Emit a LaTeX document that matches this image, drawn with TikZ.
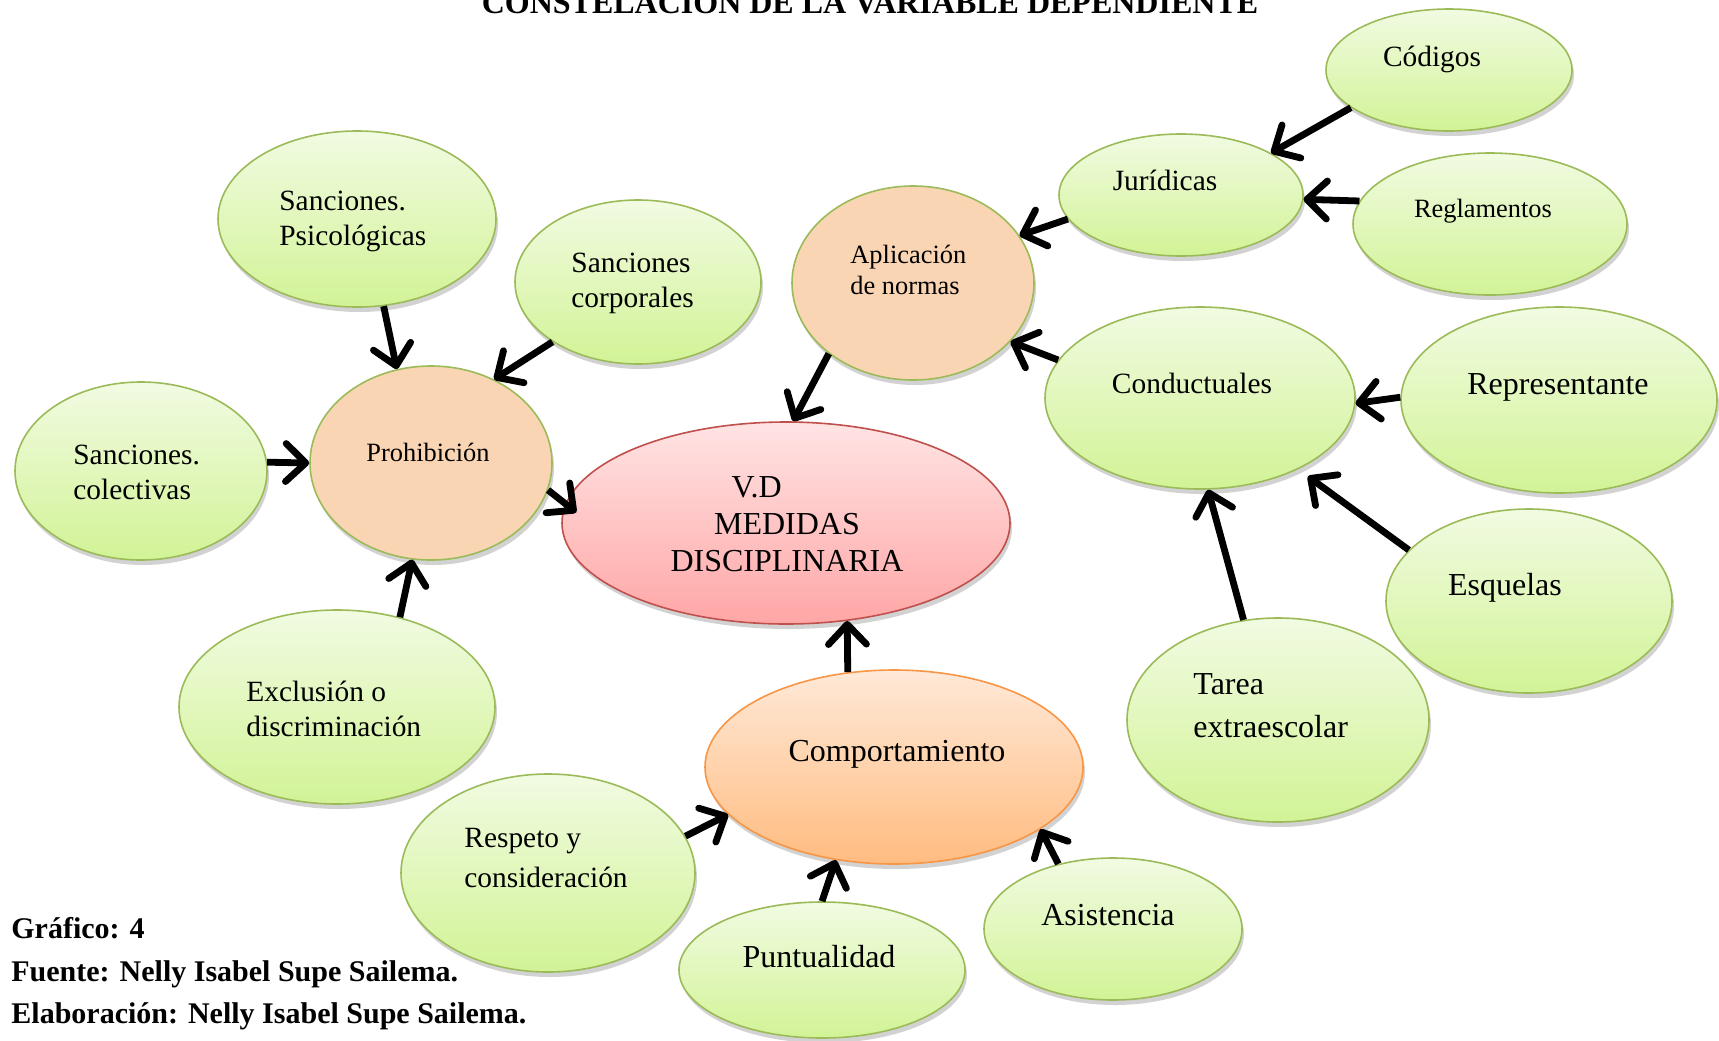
\documentclass[tikz,border=0pt]{standalone}
\usepackage{fontspec}
\setmainfont{Liberation Serif}
\usetikzlibrary{shapes.geometric,arrows.meta,shadows}
\definecolor{grnB}{RGB}{155,187,89}
\definecolor{grnT}{RGB}{241,251,226}
\definecolor{grnM}{RGB}{210,243,150}
\definecolor{peach}{RGB}{250,213,180}
\definecolor{redB}{RGB}{192,80,77}
\definecolor{redT}{RGB}{255,228,228}
\definecolor{redM}{RGB}{255,166,166}
\definecolor{orgB}{RGB}{247,150,70}
\definecolor{orgT}{RGB}{255,233,216}
\definecolor{orgM}{RGB}{255,188,128}
\tikzset{
  bub/.style={ellipse, inner sep=0pt, line width=0.8pt,
    drop shadow={shadow xshift=1pt, shadow yshift=-2.5pt, opacity=0.25, fill=black!70}},
  grn/.style={bub, draw=grnB, top color=grnT, bottom color=grnM},
  pch/.style={bub, draw=grnB, fill=peach},
  redn/.style={bub, draw=redB, top color=redT, bottom color=redM},
  orgn/.style={bub, draw=orgB, top color=orgT, bottom color=orgM},
  fA/.style={font=\fontsize{16}{18.5}\selectfont},
  fB/.style={font=\fontsize{14.7}{17.5}\selectfont},
  fC/.style={font=\fontsize{13.2}{15.3}\selectfont},
  lft/.style={anchor=west, align=left, inner sep=0pt},
  arr/.style={line width=3.4pt, -{Straight Barb[length=10pt,width=19pt,round]}},
  foot/.style={anchor=base west, inner sep=0pt, font=\fontsize{15}{18}\selectfont\bfseries}
}
\begin{document}
\begin{tikzpicture}[x=0.5pt,y=-0.5pt]
\useasboundingbox (0,0) rectangle (1719,1040);
% title
\node[anchor=base, font=\fontsize{16}{19}\selectfont\bfseries] (title) at (870,13) {CONSTELACIÓN DE LA VARIABLE DEPENDIENTE};
% ellipses
\node[grn, minimum width=123pt, minimum height=61pt] (cod) at (1449,70) {};
\node[grn, minimum width=122pt, minimum height=61pt] (jur) at (1181,195) {};
\node[grn, minimum width=137pt, minimum height=71pt] (reg) at (1490,224) {};
\node[pch, minimum width=121pt, minimum height=97pt] (apl) at (913,283) {};
\node[grn, minimum width=139pt, minimum height=88pt] (psi) at (357,219) {};
\node[grn, minimum width=123pt, minimum height=82pt] (cor) at (638,282) {};
\node[grn, minimum width=155pt, minimum height=91pt] (con) at (1200,398) {};
\node[grn, minimum width=158pt, minimum height=93pt] (rep) at (1559,400) {};
\node[grn, minimum width=126pt, minimum height=89pt] (col) at (141,471) {};
\node[pch, minimum width=121pt, minimum height=97pt] (pro) at (431,463) {};
\node[redn, minimum width=224pt, minimum height=101pt] (vd) at (786,523) {};
\node[grn, minimum width=143pt, minimum height=92pt] (esq) at (1529,601) {};
\node[grn, minimum width=151pt, minimum height=102pt] (tar) at (1278,720) {};
\node[grn, minimum width=158pt, minimum height=97pt] (exc) at (337,707) {};
\node[orgn, minimum width=189pt, minimum height=97pt] (com) at (894,767) {};
\node[grn, minimum width=147pt, minimum height=99pt] (res) at (548,873) {};
\node[grn, minimum width=143pt, minimum height=68pt] (pun) at (822,970) {};
\node[grn, minimum width=129pt, minimum height=71pt] (asi) at (1113,929) {};
% texts
\node[fB] (cod-t) at (1432,59) {Códigos};
\node[fB] (jur-t) at (1165,180) {Jurídicas};
\node[fC] (reg-t) at (1483,211) {Reglamentos};
\node[fC, lft] (apl-t) at (850,270) {Aplicación\\de normas};
\node[fB, lft] (psi-t) at (279,221) {Sanciones.\\Psicológicas};
\node[fB, lft] (cor-t) at (571,283) {Sanciones\\corporales};
\node[fB] (con-t) at (1192,383) {Conductuales};
\node[fA] (rep-t) at (1558,387) {Representante};
\node[fB, lft] (col-t) at (73,472) {Sanciones.\\colectivas};
\node[fC] (pro-t) at (428,452) {Prohibición};
\node[fA, align=center] (vd-t) at (787,524) {V.D\hspace*{1.9em}\\MEDIDAS\\DISCIPLINARIA};
\node[fA] (esq-t) at (1505,588) {Esquelas};
\node[font=\fontsize{16}{21.4}\selectfont, lft] (tar-t) at (1193,706) {Tarea\\extraescolar};
\node[fB, lft] (exc-t) at (246,709) {Exclusión o\\discriminación};
\node[fA] (com-t) at (897,754) {Comportamiento};
\node[font=\fontsize{14.7}{19.7}\selectfont, lft] (res-t) at (464,858) {Respeto y\\consideración};
\node[fA] (pun-t) at (819,957) {Puntualidad};
\node[fA] (asi-t) at (1108,915) {Asistencia};
% arrows
\draw[arr] (cod.201) -- (jur.25);
\draw[arr] (reg.170) -- (jur.358);
\draw[arr] (jur.192) -- (apl.24);
\draw[arr] (con.165) -- (apl.329);
\draw[arr] (apl.220) -- (vd.86);
\draw[arr] (rep.179) -- (con.358);
\draw[arr, shorten >=6pt] (esq.157) -- (con.324);
\draw[arr] (tar.109) -- (con.275);
\draw[arr] (psi.287) -- (pro.110);
\draw[arr] (cor.215) -- (pro.53);
\draw[arr] (col.4) -- (pro.180);
\draw[arr, shorten >=-7pt] (pro.347) -- (vd.175);
\draw[arr] (exc.55) -- (pro.259);
\draw[arr] (com.116) -- (vd.302);
\draw[arr] (res.15) -- (com.196);
\draw[arr] (pun.90) -- (com.238);
\draw[arr] (asi.130) -- (com.337);
% footer
\node[foot] (f1) at (11,938) {Gráfico: 4};
\node[foot] (f2) at (11,981) {Fuente: Nelly Isabel Supe Sailema.};
\node[foot] (f3) at (11,1023) {Elaboración: Nelly Isabel Supe Sailema.};
\end{tikzpicture}
\end{document}
